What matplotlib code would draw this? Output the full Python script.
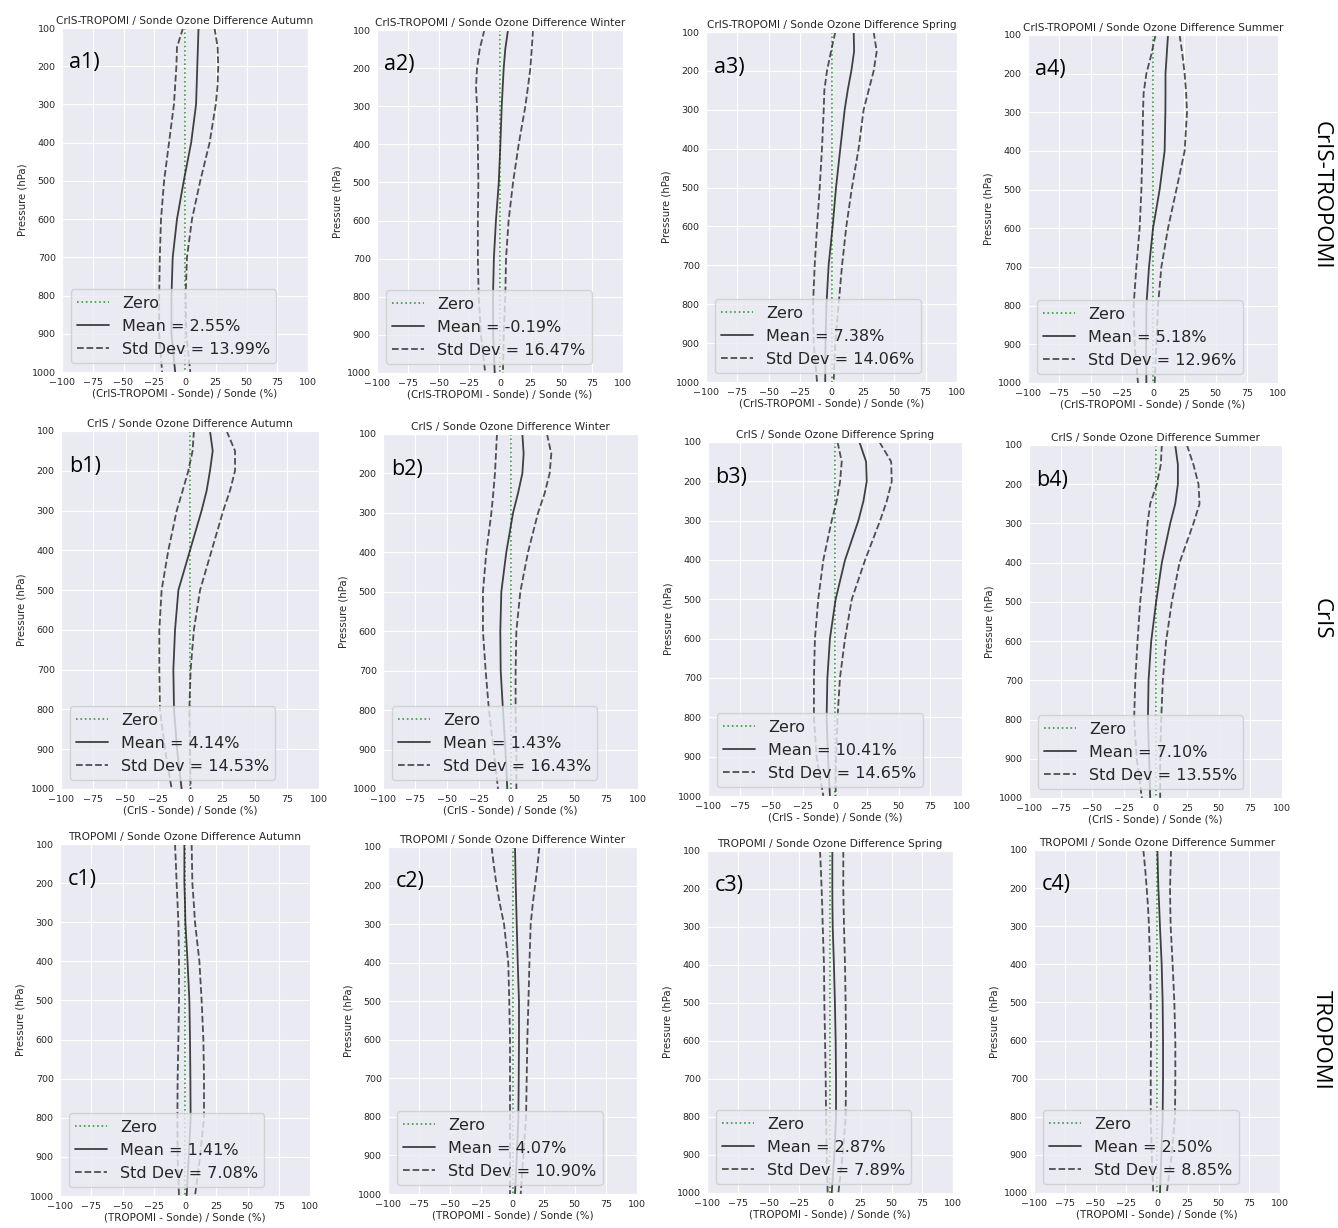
import numpy as np
import matplotlib
matplotlib.use("Agg")
import matplotlib.pyplot as plt
import seaborn as sns

sns.set_style("darkgrid")
plt.rcParams['font.family'] = ['DejaVu Sans']

# ---------------- data ----------------
pressure = [100, 150, 200, 250, 300, 400, 500, 600, 700, 800, 900, 1000]

rows = ["CrIS-TROPOMI", "CrIS", "TROPOMI"]
seasons = ["Autumn", "Winter", "Spring", "Summer"]
panel_tags = [["a1)", "a2)", "a3)", "a4)"],
              ["b1)", "b2)", "b3)", "b4)"],
              ["c1)", "c2)", "c3)", "c4)"]]

mean_pct = [[2.55, -0.19, 7.38, 5.18],
            [4.14, 1.43, 10.41, 7.10],
            [1.41, 4.07, 2.87, 2.50]]
std_pct = [[13.99, 16.47, 14.06, 12.96],
           [14.53, 16.43, 14.65, 13.55],
           [7.08, 10.90, 7.89, 8.85]]

# mean profiles (%)
mean_a1 = [11, 10.5, 10, 9.5, 9, 5, -1, -6.5, -10, -11, -11, -8]
mean_a2 = [6.5, 4.3, 3, 2.2, 1.4, 0.3, -1, -3.3, -5, -5.7, -5.5, -4.3]
mean_a3 = [17.7, 18, 15.8, 12.9, 10.5, 7, 3.6, 0.9, -2.3, -4, -4.8, -5]
mean_a4 = [12, 11, 10, 10, 9.9, 9.3, 5.3, 0, -3.2, -5.3, -5.5, -5.3]
mean_b1 = [15.5, 17.6, 15.5, 12.9, 9, 0, -9, -11.6, -12.9, -12.4, -10, -6.5]
mean_b2 = [9.3, 10.3, 9.3, 5.9, 2, -3.3, -7.2, -8, -7.7, -5.9, -4, -2.5]
mean_b3 = [19.2, 24.5, 25, 22.4, 18.4, 7.9, 0.5, -4, -6, -6.6, -5.5, -4]
mean_b4 = [15.6, 17.7, 17.7, 15.6, 11.6, 5, 0.5, -3.4, -5.5, -6, -5, -4.2]
mean_c1 = [-0.5, -0.5, -0.5, 0, 0.3, 2, 3.5, 4, 4.3, 4.5, 3, 1.3]
mean_c2 = [2, 2.3, 2.6, 3, 3.4, 4.2, 5.2, 5.2, 5, 4.7, 3.5, 2]
mean_c3 = [1.9, 1.9, 1.9, 2, 2.2, 3.2, 4, 4.6, 4.9, 4.9, 3.5, 1.4]
mean_c4 = [0.3, 0.7, 1.1, 1.8, 2.4, 3.8, 4.6, 4.9, 4.9, 4.6, 3.5, 2.4]

# mean - std profiles (%)
lower_a1 = [-1.6, -6.5, -7, -8, -9, -13, -17, -19.5, -20.5, -21, -21, -18.6]
lower_a2 = [-12.7, -16.5, -18.7, -19.5, -18.7, -18, -17.6, -18, -18, -17.3, -15.5, -12]
lower_a3 = [3, -0.4, -3.6, -5.7, -6.2, -7.6, -9.4, -11.5, -13.4, -14.7, -14.2, -11.5]
lower_a4 = [2, -1.3, -5.3, -7.5, -8, -8.5, -9.3, -10.7, -13.3, -15.5, -14.7, -12]
lower_b1 = [3, 2, -1.3, -5.7, -10.3, -16.8, -22, -23.8, -23.8, -23.3, -19.4, -14.2]
lower_b2 = [-10.6, -11.4, -12.2, -13.5, -15, -19, -21.6, -21.6, -19.5, -16.9, -13.2, -9.8]
lower_b3 = [2, 5.3, 4, 1.3, -2.6, -9.2, -13.2, -15.8, -16.6, -16.6, -14.5, -9.2]
lower_b4 = [5, 4.2, 1, -4.2, -6.3, -9, -12.1, -14.2, -16, -16.9, -14.8, -10.8]
lower_c1 = [-8, -7.3, -6.7, -6, -5.3, -4.8, -4.8, -5.3, -5.9, -6.1, -5.9, -4.8]
lower_c2 = [-16.8, -14.9, -12.8, -10, -6.8, -3.4, -2.6, -2, -2, -2, -2, -2]
lower_c3 = [-8.1, -7.4, -6.8, -6.3, -5.9, -4.9, -4.6, -4, -3.5, -3.2, -2.7, -1.9]
lower_c4 = [-11.1, -9.6, -8.4, -7.3, -6.5, -5.7, -5.1, -4.9, -5.1, -5.1, -4.3, -3]

# mean + std profiles (%)
upper_a1 = [24, 26.5, 27, 26.5, 25, 20, 12.4, 5.7, 1.6, 0.5, 1, 4.3]
upper_a2 = [26.8, 25.8, 24.7, 22.7, 20.6, 15.2, 10.6, 7, 4.9, 4.3, 3, 2.4]
upper_a3 = [33.6, 36, 33.6, 29.6, 25.6, 21.6, 16.3, 11.8, 8.4, 5.7, 3, 1.7]
upper_a4 = [21.3, 23.5, 25.3, 26.5, 27.2, 25.3, 18.7, 12, 6.7, 4, 2.7, 1.3]
upper_b1 = [28.4, 34.9, 34.9, 31, 25.8, 16.8, 7.8, 3, 0.5, -0.5, 0, 0.5]
upper_b2 = [28.6, 32, 30.7, 26.8, 21.6, 13.7, 7.7, 4.6, 4, 4, 4.6, 4.6]
upper_b3 = [35, 44.2, 44.7, 40.8, 35.5, 23.7, 13.2, 7.9, 3.9, 2, 0.8, 0.5]
upper_b4 = [24.8, 30, 34, 34.8, 30, 19, 12.9, 8.4, 5.8, 4.5, 3.7, 3.7]
upper_c1 = [5.3, 5.6, 5.9, 7, 8, 11.5, 13.3, 14.7, 15.2, 15.2, 12, 8]
upper_c2 = [21.6, 20, 18.1, 16.2, 14.6, 13.6, 12.8, 11.9, 11.4, 10.9, 8.7, 6.6]
upper_c3 = [10.8, 10.8, 10.8, 11.1, 11.4, 12.2, 12.7, 13, 13, 12.7, 10.3, 6.8]
upper_c4 = [11.4, 11, 10.6, 10.8, 11.1, 12.7, 14.1, 14.9, 14.9, 14.6, 11.9, 7.9]

means = [[mean_a1, mean_a2, mean_a3, mean_a4],
         [mean_b1, mean_b2, mean_b3, mean_b4],
         [mean_c1, mean_c2, mean_c3, mean_c4]]
lowers = [[lower_a1, lower_a2, lower_a3, lower_a4],
          [lower_b1, lower_b2, lower_b3, lower_b4],
          [lower_c1, lower_c2, lower_c3, lower_c4]]
uppers = [[upper_a1, upper_a2, upper_a3, upper_a4],
          [upper_b1, upper_b2, upper_b3, upper_b4],
          [upper_c1, upper_c2, upper_c3, upper_c4]]

xticks = [-100, -75, -50, -25, 0, 25, 50, 75, 100]
yticks = [100, 200, 300, 400, 500, 600, 700, 800, 900, 1000]

# axes boxes in pixels: left, right, top, bottom
boxes = [[(62, 308, 28, 372), (377, 623, 30, 373), (706, 957, 32, 382), (1028, 1278, 35, 383)],
         [(61, 319, 431, 789), (383, 638, 434, 789), (708, 962, 442, 796), (1029, 1282, 445, 798)],
         [(60, 310, 844, 1196), (388, 637, 847, 1194), (707, 953, 851, 1193), (1034, 1280, 850, 1193)]]

W, H = 1338, 1228
fig = plt.figure(figsize=(W / 100, H / 100), dpi=100)

for r in range(3):
    for c in range(4):
        l, rt, t, b = boxes[r][c]
        ax = fig.add_axes([l / W, 1 - b / H, (rt - l) / W, (b - t) / H])
        ax.plot(np.zeros(len(pressure)), pressure, ls=':', color='green', alpha=0.75, lw=1.2, label='Zero')
        ax.plot(means[r][c], pressure, ls='-', color='#222222', alpha=0.85, lw=1.3,
                label=f'Mean = {mean_pct[r][c]:.2f}%')
        ax.plot(lowers[r][c], pressure, ls='--', color='#333333', alpha=0.85, lw=1.3,
                label=f'Std Dev = {std_pct[r][c]:.2f}%')
        ax.plot(uppers[r][c], pressure, ls='--', color='#333333', alpha=0.85, lw=1.3)
        ax.set_xlim(-100, 100)
        ax.set_ylim(1000, 100)
        ax.set_xticks(xticks)
        ax.set_yticks(yticks)
        ax.tick_params(labelsize=6.8, pad=1)
        ax.set_title(f'{rows[r]} / Sonde Ozone Difference {seasons[c]}', fontsize=7.6, pad=3)
        ax.set_xlabel(f'({rows[r]} - Sonde) / Sonde (%)', fontsize=7.4, labelpad=1)
        ax.set_ylabel('Pressure (hPa)', fontsize=7.3, labelpad=3)
        ax.legend(loc='lower left', fontsize=11.5, borderaxespad=0.55)
        ax.text(0.03, 0.9, panel_tags[r][c], transform=ax.transAxes, fontsize=15.5,
                family='Open Sans', weight='medium', color='black', va='center', ha='left')

row_label_y = [195, 619, 1040]
for r in range(3):
    fig.text(1321 / W, 1 - row_label_y[r] / H, rows[r], rotation=270, fontsize=16,
             family='Open Sans', ha='center', va='center', color='black')

fig.savefig('out.png', dpi=100, facecolor='white')
